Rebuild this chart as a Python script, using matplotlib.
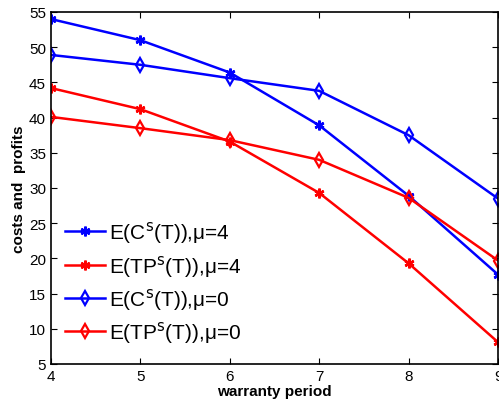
import matplotlib
matplotlib.use('Agg')
import matplotlib.pyplot as plt

# warranty period
T = [4, 5, 6, 7, 8, 9]

# values
c_mu4 = [54.0, 51.0, 46.4, 38.9, 28.9, 17.7]
tp_mu4 = [44.2, 41.2, 36.6, 29.3, 19.3, 8.1]
c_mu0 = [48.9, 47.5, 45.6, 43.8, 37.5, 28.5]
tp_mu0 = [40.1, 38.5, 36.8, 34.0, 28.6, 19.7]

yticks = [5, 10, 15, 20, 25, 30, 35, 40, 45, 50, 55]

plt.rcParams['font.family'] = ['Liberation Sans', 'DejaVu Sans']

fig = plt.figure(figsize=(4.99, 4.06), dpi=100)
ax = fig.add_axes([0.102, 0.101, 0.896, 0.867])

ax.plot(T, c_mu4, color='blue', lw=1.8, marker=(6, 2, 0), ms=7, mew=1.8,
        label=r'E(C$^{\rm s}$(T)),μ=4')
ax.plot(T, tp_mu4, color='red', lw=1.8, marker=(6, 2, 0), ms=7, mew=1.8,
        label=r'E(TP$^{\rm s}$(T)),μ=4')
ax.plot(T, c_mu0, color='blue', lw=1.8, marker='d', ms=7.5, mew=1.6, mfc='none',
        label=r'E(C$^{\rm s}$(T)),μ=0')
ax.plot(T, tp_mu0, color='red', lw=1.8, marker='d', ms=7.5, mew=1.6, mfc='none',
        label=r'E(TP$^{\rm s}$(T)),μ=0')

ax.set_xlim(4, 9)
ax.set_ylim(5, 55)
ax.set_yticks(yticks)
ax.set_xticks(T)
ax.tick_params(direction='in', top=True, right=True, labelsize=11, length=4)
for s in ax.spines.values():
    s.set_linewidth(1.2)

ax.set_xlabel('warranty period', fontsize=11, fontweight='bold', labelpad=1)
ax.set_ylabel('costs and  profits', fontsize=11, fontweight='bold', labelpad=2)

ax.legend(loc='lower left', frameon=False, fontsize=15, handlelength=1.9,
          handletextpad=0.2, labelspacing=0.35, borderaxespad=0.3,
          bbox_to_anchor=(0.0, 0.012))

fig.savefig('out.png', dpi=100)
